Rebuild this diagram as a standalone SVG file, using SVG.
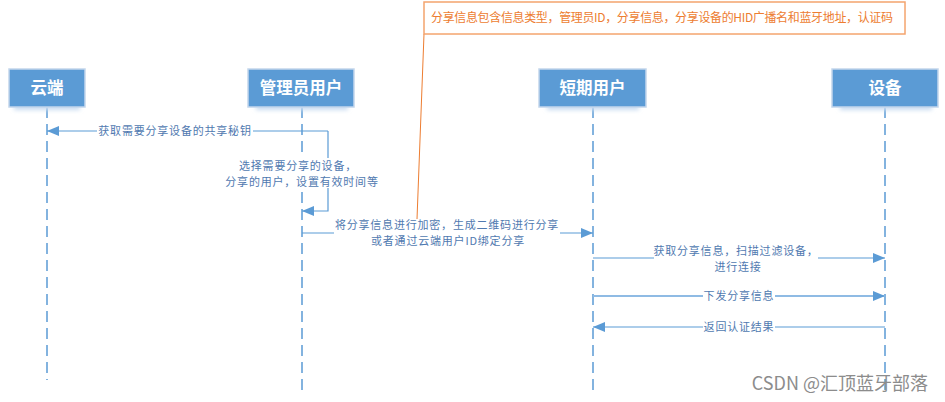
<svg xmlns="http://www.w3.org/2000/svg" width="945" height="402" viewBox="0 0 945 402">
<style>
.box{fill:#5b9bd5;stroke:#c3d6ec;stroke-width:1.5}
.shadow{fill:#c9dcf1;filter:url(#blur)}
.title{font-family:"Noto Sans CJK SC","Noto Sans",sans-serif;font-size:16.5px;font-weight:bold;fill:#ffffff;text-anchor:middle}
.life{stroke:#5b9bd5;stroke-width:1.5;stroke-dasharray:11 6;fill:none}
.msg{stroke:#5b9bd5;stroke-width:1.2;fill:none}
.msg2{stroke:#8fbbe4;stroke-width:2;fill:none}
.lbl{font-family:"Noto Sans CJK SC","Noto Sans",sans-serif;font-size:11px;letter-spacing:0.8px;fill:#5079b0;text-anchor:middle}
.bg{fill:#ffffff}
.note{fill:none;stroke:#f4a46e;stroke-width:1.5}
.notetxt{font-family:"Noto Sans CJK SC","Noto Sans",sans-serif;font-size:12px;fill:#ed7d31}
.wm{font-family:"Noto Sans CJK SC","Noto Sans",sans-serif;font-size:18px;fill:#8c8c8c;text-anchor:end}
</style>
<defs>
<filter id="blur" x="-20%" y="-50%" width="140%" height="200%"><feGaussianBlur stdDeviation="2"/></filter>
<marker id="arr" markerUnits="userSpaceOnUse" markerWidth="13" markerHeight="11" refX="12" refY="5" orient="auto"><path d="M0,0 L12,5 L0,10 Z" fill="#5b9bd5"/></marker>
</defs>
<rect width="945" height="402" fill="#ffffff"/>

<g id="lifelines">
<line class="life" x1="47" y1="107" x2="47" y2="380"/>
<line class="life" x1="302" y1="107" x2="302" y2="392"/>
<line class="life" x1="593" y1="107" x2="593" y2="392"/>
<line class="life" x1="885" y1="107" x2="885" y2="392"/>
</g>

<g id="cloud">
<rect class="shadow" x="14" y="100" width="66" height="10"/>
<rect class="box" x="9" y="69" width="76" height="38"/>
<text class="title" x="47" y="94">云端</text>
</g>
<g id="admin">
<rect class="shadow" x="256" y="100" width="92" height="10"/>
<rect class="box" x="248" y="69" width="106" height="38"/>
<text class="title" x="301" y="94">管理员用户</text>
</g>
<g id="shortuser">
<rect class="shadow" x="547" y="100" width="92" height="10"/>
<rect class="box" x="539" y="69" width="107" height="38"/>
<text class="title" x="592.5" y="94">短期用户</text>
</g>
<g id="device">
<rect class="shadow" x="840" y="100" width="92" height="10"/>
<rect class="box" x="832" y="69" width="106" height="38"/>
<text class="title" x="885" y="94">设备</text>
</g>

<g id="connectors">
<path class="msg" d="M328,131 L47,131" marker-end="url(#arr)"/>
<path class="msg" d="M328,131 L328,211 L302,211" marker-end="url(#arr)"/>
<path class="msg" d="M302,233 L593,233" marker-end="url(#arr)"/>
<path class="msg" d="M593,258 L885,258" marker-end="url(#arr)"/>
<path class="msg2" d="M593,296 L885,296" marker-end="url(#arr)"/>
<path class="msg" d="M885,327 L593,327" marker-end="url(#arr)"/>
</g>

<g id="labels">
<rect class="bg" x="97" y="124" width="156" height="14"/>
<text class="lbl" x="175" y="135">获取需要分享设备的共享秘钥</text>
<rect class="bg" x="240" y="158" width="128" height="30"/>
<text class="lbl" x="298" y="170">选择需要分享的设备，</text>
<text class="lbl" x="302" y="186">分享的用户，设置有效时间等</text>
<rect class="bg" x="334" y="219" width="226" height="30"/>
<text class="lbl" x="447" y="229">将分享信息进行加密，生成二维码进行分享</text>
<text class="lbl" x="448" y="245">或者通过云端用户ID绑定分享</text>
<rect class="bg" x="654" y="244" width="164" height="28"/>
<text class="lbl" x="736" y="255">获取分享信息，扫描过滤设备，</text>
<text class="lbl" x="738" y="271">进行连接</text>
<rect class="bg" x="703" y="289" width="72" height="14"/>
<text class="lbl" x="739" y="300">下发分享信息</text>
<rect class="bg" x="703" y="320" width="72" height="14"/>
<text class="lbl" x="739" y="331">返回认证结果</text>
</g>

<g id="note">
<line x1="424" y1="34" x2="417" y2="219" stroke="#ed7d31" stroke-width="1"/>
<rect class="note" x="424" y="2" width="481" height="32"/>
<text class="notetxt" x="431" y="22" textLength="462" lengthAdjust="spacing">分享信息包含信息类型，管理员ID，分享信息，分享设备的HID广播名和蓝牙地址，认证码</text>
</g>

<text class="wm" x="928" y="390">CSDN @汇顶蓝牙部落</text>
</svg>
